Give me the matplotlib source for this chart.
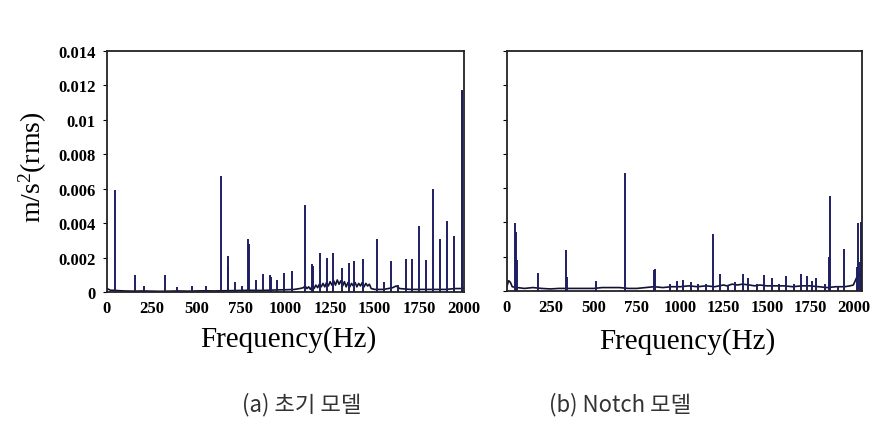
import matplotlib
matplotlib.use('Agg')
import matplotlib.pyplot as plt

plt.rcParams['font.family'] = ['Liberation Serif', 'DejaVu Serif']
plt.rcParams['mathtext.fontset'] = 'custom'
plt.rcParams['mathtext.rm'] = 'Liberation Serif'
plt.rcParams['mathtext.it'] = 'Liberation Serif'

# (a) initial model - spike frequencies (Hz) and amplitudes (m/s^2 rms)
a_freq = [43, 155, 206, 323, 394, 478, 557, 636, 678, 680, 716, 755, 792, 796,
          837, 875, 912, 917, 955, 993, 1034, 1112, 1150, 1154, 1196, 1230, 1267,
          1314, 1355, 1385, 1435, 1512, 1551, 1589, 1628, 1673, 1707, 1746, 1789,
          1828, 1865, 1907, 1944, 1987, 1991]
a_amp = [0.00595, 0.00100, 0.00035, 0.00097, 0.00030, 0.00035, 0.00035, 0.00672,
         0.00150, 0.00212, 0.00058, 0.00035, 0.00305, 0.00280, 0.00068, 0.00104,
         0.00097, 0.00090, 0.00068, 0.00110, 0.00122, 0.00508, 0.00164, 0.00150,
         0.00226, 0.00200, 0.00226, 0.00139, 0.00170, 0.00178, 0.00193, 0.00305,
         0.00058, 0.00180, 0.00042, 0.00193, 0.00193, 0.00382, 0.00187, 0.00597,
         0.00309, 0.00415, 0.00328, 0.01174, 0.01170]
a_floor_f = [0, 10, 20, 40, 60, 100, 150, 200, 250, 300, 350, 400, 450, 500, 550,
             600, 650, 700, 750, 800, 850, 900, 950, 1000, 1050, 1080, 1100, 1110,
             1120, 1130, 1140, 1150, 1160, 1170, 1180, 1190, 1200, 1210, 1220, 1230,
             1240, 1250, 1260, 1270, 1280, 1290, 1300, 1310, 1320, 1330, 1340, 1350,
             1360, 1370, 1380, 1390, 1400, 1410, 1420, 1430, 1440, 1450, 1460, 1470,
             1480, 1500, 1550, 1600, 1620, 1640, 1700, 1750, 1800, 1850, 1900, 1950,
             2000]
a_floor_v = [2, 1.5, 1, 1, 0.8, 0.6, 0.5, 0.6, 0.5, 0.4, 0.5, 0.6, 0.5, 0.6, 0.7,
             0.6, 0.7, 0.8, 0.9, 1, 0.9, 1, 1.2, 1.3, 1.5, 2, 2.5, 3.5, 2, 3, 1.5,
             3.5, 2, 4, 2.5, 4.5, 3, 5, 3, 5.5, 3.5, 6, 4, 6.5, 4, 7, 4.5, 6.5, 3.5,
             6, 3, 5.5, 3, 5, 3.5, 5.5, 3, 5, 3.5, 5.5, 3, 5, 3.5, 4.5, 2, 1.5, 1.5,
             2.5, 3.5, 2, 1.5, 1.5, 1.5, 1.5, 1.5, 2, 2]

# (b) notch model
b_freq = [46, 53, 57, 180, 340, 346, 512, 683, 848, 856, 940, 979, 1017, 1065, 1104,
          1148, 1190, 1228, 1276, 1315, 1361, 1392, 1443, 1486, 1530, 1570, 1612,
          1655, 1697, 1731, 1760, 1783, 1837, 1862, 1866, 1914, 1948, 2019, 2029,
          2038, 2046]
b_amp = [0.00397, 0.00344, 0.00180, 0.00107, 0.00237, 0.00080, 0.00056, 0.00686,
         0.00120, 0.00126, 0.00043, 0.00056, 0.00062, 0.00050, 0.00043, 0.00043,
         0.00334, 0.00100, 0.00037, 0.00050, 0.00100, 0.00078, 0.00043, 0.00095,
         0.00078, 0.00043, 0.00086, 0.00043, 0.00100, 0.00088, 0.00060, 0.00078,
         0.00043, 0.00200, 0.00554, 0.00030, 0.00243, 0.00140, 0.00397, 0.00170,
         0.00400]
b_floor_f = [0, 10, 20, 30, 60, 100, 150, 200, 250, 300, 350, 400, 450, 500, 550,
             600, 650, 700, 750, 800, 850, 900, 950, 1000, 1050, 1100, 1150, 1200,
             1250, 1270, 1300, 1330, 1360, 1400, 1430, 1460, 1500, 1550, 1600, 1650,
             1700, 1750, 1800, 1850, 1900, 1950, 1980, 2000, 2020, 2040]
b_floor_v = [3, 6, 5, 2.5, 2, 1.5, 2, 1.5, 1.2, 1.5, 1.5, 1.5, 1.5, 1.5, 2, 2, 2,
             1.5, 1.5, 2, 2.5, 2, 2.5, 2.5, 3, 2.5, 3, 2.5, 3.5, 3, 4, 3.5, 4, 3.5,
             3, 3.5, 3, 3, 3, 2.5, 3, 3, 2.5, 2, 2.5, 2.5, 3, 3.5, 8, 10]

x_ticks = [0, 250, 500, 750, 1000, 1250, 1500, 1750, 2000]
y_ticks = [0, 0.002, 0.004, 0.006, 0.008, 0.01, 0.012, 0.014]
y_labels = ['0', '0.002', '0.004', '0.006', '0.008', '0.01', '0.012', '0.014']

navy = '#1e1e62'

fig = plt.figure(figsize=(8.78, 4.27), dpi=100)
ax1 = fig.add_axes([107/878, 1 - 293/427, 357/878, 241/427])
ax2 = fig.add_axes([507/878, 1 - 292/427, 355/878, 240/427])

panels = [(ax1, a_freq, a_amp, a_floor_f, a_floor_v, 2000),
          (ax2, b_freq, b_amp, b_floor_f, b_floor_v, 2050)]
for ax, fr, am, ff, fv, xmax in panels:
    ax.plot(ff, [v * 1e-4 for v in fv], color='#111133', lw=1.2)
    ax.vlines(fr, 0, am, color=navy, lw=1.4)
    ax.set_xlim(0, xmax)
    ax.set_ylim(0, 0.014)
    ax.set_xticks(x_ticks)
    ax.set_xticklabels([str(t) for t in x_ticks], fontsize=12, fontweight='bold')
    ax.set_yticks(y_ticks)
    ax.tick_params(axis='x', length=0, pad=6)
    ax.tick_params(axis='y', length=3, width=0.8, direction='out', pad=5)
    for s in ax.spines.values():
        s.set_linewidth(1.3)
        s.set_color('#222222')

ax1.set_yticklabels(y_labels, fontsize=12, fontweight='bold')
ax2.set_yticklabels([])

fig.text(288/878, 1 - 340/427, 'Frequency(Hz)', fontsize=21, ha='center', va='center')
fig.text(687/878, 1 - 342/427, 'Frequency(Hz)', fontsize=21, ha='center', va='center')
fig.text(33/878, 1 - 167/427, r'm/s$^2$(rms)', fontsize=20, rotation=90,
         ha='center', va='center')

cap_font = ['Noto Sans CJK KR', 'DejaVu Sans']
fig.text(302/878, 1 - 405/427, '(a) 초기 모델', fontsize=16, family=cap_font,
         ha='center', va='center', color='#333333')
fig.text(620/878, 1 - 405/427, '(b) Notch 모델', fontsize=16, family=cap_font,
         ha='center', va='center', color='#333333')

fig.savefig('out.png', dpi=100, facecolor='white')
